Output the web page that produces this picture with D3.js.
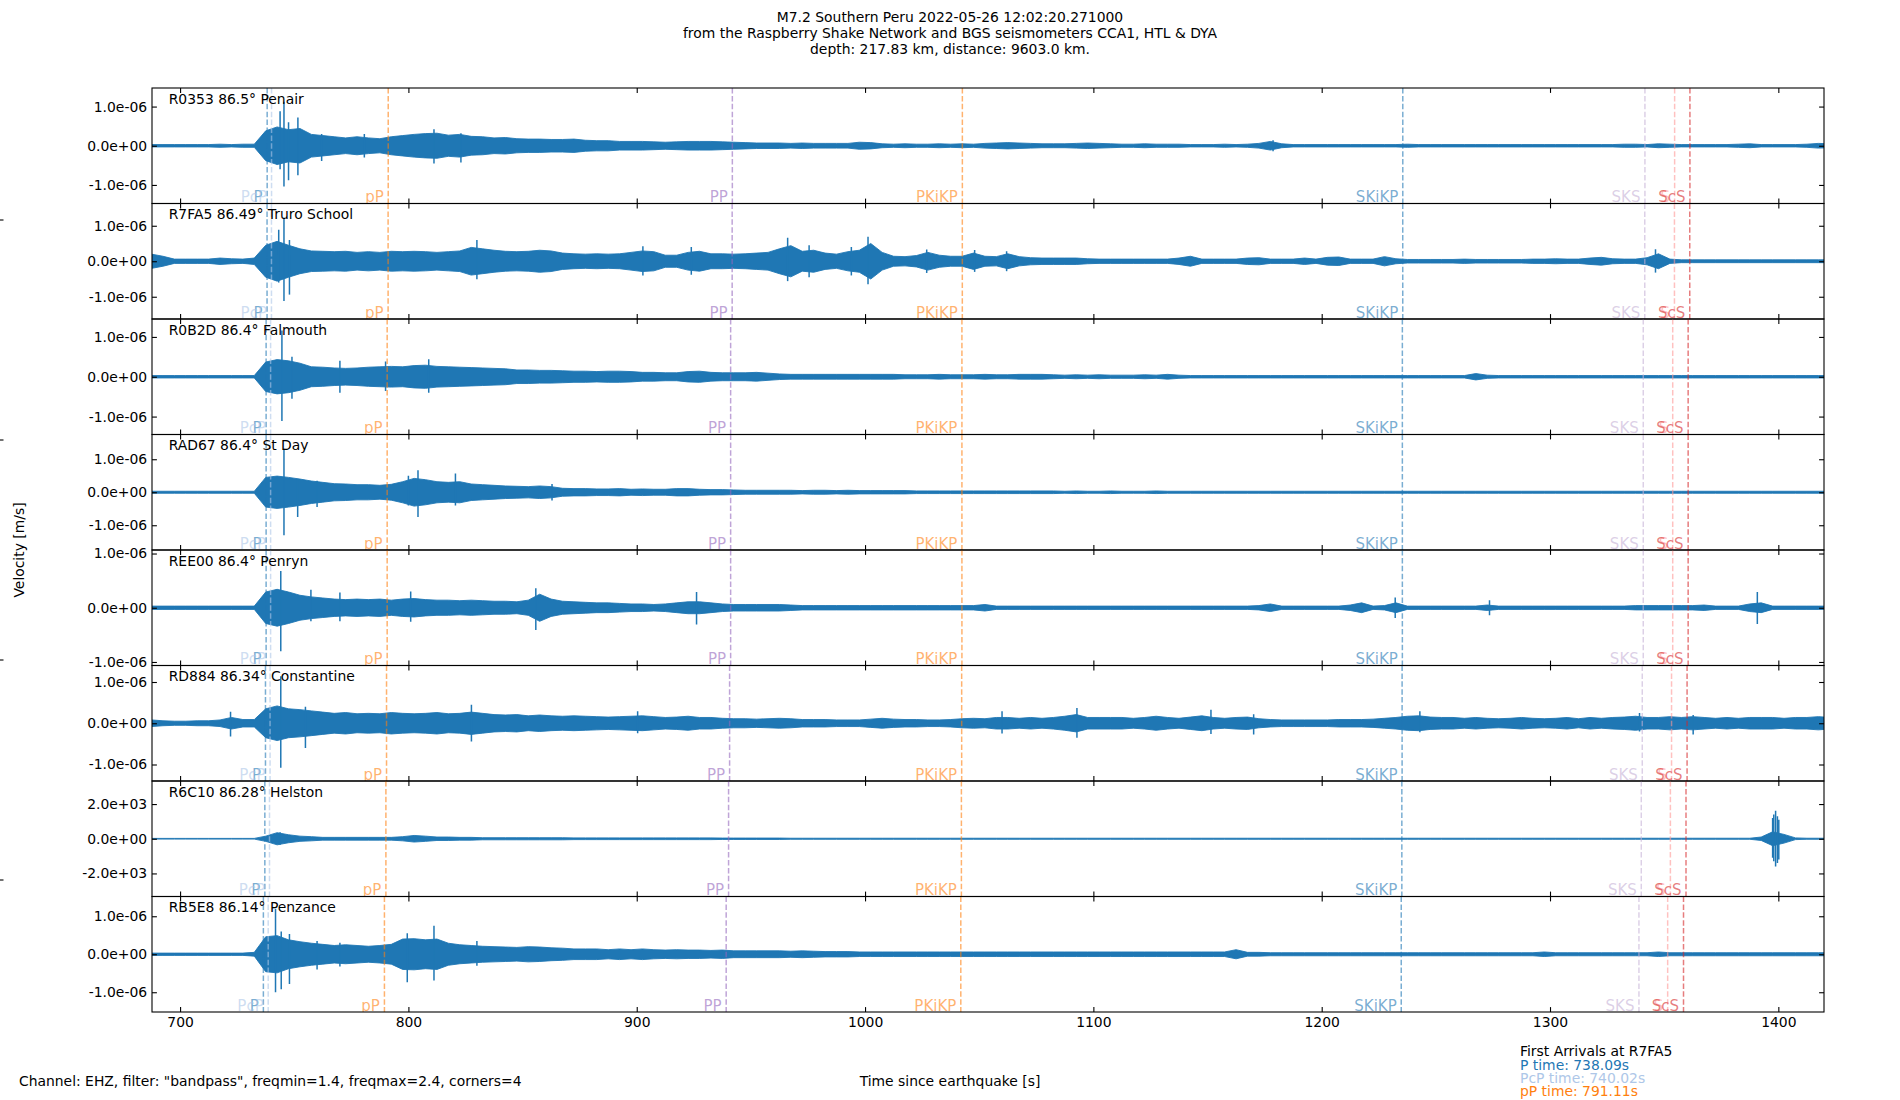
<!DOCTYPE html>
<html>
<head>
<meta charset="utf-8">
<script src="https://cdn.jsdelivr.net/npm/d3@7"></script>
<style>
  body { margin: 0; background: #fff; }
  text { font-family: "DejaVu Sans", sans-serif; }
</style>
</head>
<body>
<div id="d3-container"></div>
<script>
/**
 * CONSTANTS AND GLOBALS
 * */
const width = 1900,
  height = 1100,
  margin = { top: 88, bottom: 88, left: 152, right: 76 };

/**
 * DATA
 * */
const titleLines = [
  "M7.2 Southern Peru 2022-05-26 12:02:20.271000",
  "from the Raspberry Shake Network and BGS seismometers CCA1, HTL & DYA",
  "depth: 217.83 km, distance: 9603.0 km."
];
const stationCodes = ["R0353", "R7FA5", "R0B2D", "RAD67", "REE00", "RD884", "R6C10", "RB5E8"];
const stationDist = [86.5, 86.49, 86.4, 86.4, 86.4, 86.34, 86.28, 86.14];
const stationPlace = ["Penair", "Truro School", "Falmouth", "St Day", "Penryn", "Constantine", "Helston", "Penzance"];

const xDomain = [687.7, 1420.0];
const xTicks = [700, 800, 900, 1000, 1100, 1200, 1300, 1400];

// y limits (real units), unit of the envelope numbers, tick step
const yLimit = [1.474e-6, 1.627e-6, 1.45e-6, 1.75e-6, 1.065e-6, 1.40e-6, 3330, 1.52e-6];
const ampUnit = [1e-8, 1e-8, 1e-8, 1e-8, 1e-8, 1e-8, 10, 1e-8];
const yTickStep = [1e-6, 1e-6, 1e-6, 1e-6, 1e-6, 1e-6, 2e3, 1e-6];

// phase arrivals [s] per station (same order as stationCodes)
const phases = ["P", "PcP", "pP", "PP", "PKiKP", "SKiKP", "SKS", "S", "ScS"];
const arrP     = [738.14, 738.09, 737.68, 737.68, 737.68, 737.40, 737.12, 736.48];
const arrPcP   = [740.06, 740.02, 739.65, 739.65, 739.65, 739.41, 739.16, 738.59];
const arrpP    = [791.16, 791.11, 790.70, 790.70, 790.70, 790.42, 790.14, 789.50];
const arrPP    = [941.88, 941.80, 941.13, 941.13, 941.13, 940.68, 940.23, 939.18];
const arrPKiKP = [1042.62, 1042.60, 1042.43, 1042.43, 1042.43, 1042.32, 1042.20, 1041.94];
const arrSKiKP = [1235.52, 1235.50, 1235.33, 1235.33, 1235.33, 1235.22, 1235.10, 1234.84];
const arrSKS   = [1341.57, 1341.50, 1340.84, 1340.84, 1340.84, 1340.41, 1339.97, 1338.95];
const arrS     = [1354.58, 1354.50, 1353.74, 1353.74, 1353.74, 1353.23, 1352.72, 1351.53];
const arrScS   = [1361.28, 1361.20, 1360.50, 1360.50, 1360.50, 1360.03, 1359.56, 1358.47];

// solid core of each trace, one value every 5 s starting at 687.5 s (units: ampUnit)
const envStart = 687.5, envStep = 5;
const envR0353 = [3,3,3,3,3,3,4,3,4,4, 38,48,41,44,29,26,23,20,23,20, 18,23,26,29,31,32,27,29,24,23,
  20,21,18,17,17,16,16,17,14,13, 13,11,11,11,10,9,10,11,11,11, 10,9,8,7,7,7,6,7,6,6,
  6,6,9,8,5,4,5,4,4,5, 4,5,4,6,7,8,7,6,5,5, 5,6,7,6,5,4,4,5,4,4, 4,3,3,3,4,3,4,6,11,5,
  3,3,3,3,3,3,3,3,3,3, 4,3,3,3,3,3,3,3,3,3, 3,3,3,3,3,3,3,3,3,4, 4,3,5,4,3,3,3,3,3,4, 5,3,3,3,3,4,6,5];
const envR7FA5 = [20,14,6,6,6,6,9,7,6,9, 45,56,45,35,29,28,27,28,25,27, 25,28,27,28,27,25,27,29,39,35,
  31,28,27,28,31,29,23,21,20,21, 20,21,25,29,27,17,17,25,28,21, 21,20,21,23,25,35,44,28,31,23,
  20,27,31,50,25,14,13,16,25,17, 14,14,23,14,13,21,13,10,9,9, 9,9,7,6,6,6,6,6,6,6,
  9,14,6,6,6,6,9,10,6,6, 6,9,6,11,12,6,6,6,13,7, 5,5,5,5,5,6,5,5,5,5, 5,6,6,7,6,6,9,11,7,6,
  6,10,21,6,4,4,4,4,4,4, 4,4,4,4,4,4,4,4];
const envR0B2D = [3,3,3,3,3,3,3,3,3,3, 37,43,40,34,25,24,22,21,22,24, 25,26,25,28,29,26,25,24,23,22,
  21,20,17,17,16,16,15,14,14,13, 14,14,13,11,11,10,10,13,14,11, 10,10,10,11,9,7,6,6,6,6,
  6,6,6,6,6,6,5,5,5,6, 5,5,5,6,5,5,6,6,6,5, 4,5,4,5,4,4,4,5,4,6, 4,3,3,3,3,3,3,3,3,3,
  3,3,3,3,3,3,3,3,3,3, 3,3,3,3,3,3,8,4,3,3, 3,3,3,3,3,3,3,3,3,3, 3,3,3,3,3,3,3,3,3,3, 3,3,3,3,3,3,3,3];
const envRAD67 = [3,3,3,3,3,3,3,3,3,3, 45,49,45,40,34,30,26,25,23,23, 21,24,32,42,38,32,30,32,25,23,
  21,19,18,17,19,17,12,11,11,10, 10,11,9,10,9,9,11,11,9,8, 8,7,6,6,6,6,6,5,6,6,
  5,6,5,5,5,5,5,4,4,4, 4,4,4,4,4,4,4,4,4,4, 3,4,3,3,4,3,3,3,4,3, 3,3,3,3,3,3,3,3,3,3,
  3,3,3,3,3,3,3,3,3,3, 3,3,3,3,3,3,3,3,3,3, 3,3,3,3,3,3,3,3,3,3, 3,3,3,3,3,3,3,3,3,3, 3,3,3,3,3,3,3,3];
const envREE00 = [3,3,3,3,3,3,3,3,3,3, 29,34,29,23,20,18,16,15,16,15, 16,14,16,17,15,14,14,13,14,13,
  12,12,11,14,25,16,12,11,10,9, 9,8,7,7,6,7,9,11,11,9, 7,6,6,6,6,6,5,4,4,4,
  4,4,4,4,4,4,4,4,4,4, 4,4,4,6,3,3,3,3,3,3, 3,3,3,3,3,3,3,3,3,3, 3,3,3,3,3,3,3,4,7,3,
  3,3,3,3,3,5,9,3,4,9, 3,3,3,3,3,3,3,5,3,3, 3,3,3,3,3,3,3,3,3,3, 4,4,4,4,4,4,5,3,3,3, 7,9,3,3,3,3,3,3];
const envRD884 = [8,6,5,5,6,6,8,14,9,9, 35,42,35,33,30,27,24,26,23,24, 23,26,24,23,24,26,23,24,27,24,
  21,20,21,18,20,18,17,18,17,16, 15,16,17,18,16,14,15,17,14,14, 12,11,11,10,11,12,11,9,9,9,
  8,8,8,10,12,10,9,9,8,8, 9,11,12,11,14,14,12,14,12,14, 17,21,14,14,14,14,12,14,17,14,
  12,15,18,14,12,14,15,11,9,8, 8,8,8,8,9,9,9,10,12,14, 17,18,15,14,14,12,14,12,11,12,
  14,12,11,12,14,11,14,12,14,15, 17,14,14,16,14,16,14,12,14,12, 14,14,14,12,14,14,16,14];
const envR6C10 = [2,2,2,2,2,2,2,2,2,2, 15,35,23,15,12,8,8,8,8,8, 8,8,12,19,15,10,10,8,8,6,
  6,6,6,6,6,6,6,5,5,5, 5,5,5,5,5,5,5,5,5,5, 4,4,4,4,4,4,3,3,3,3,
  3,3,3,3,3,3,3,3,3,3, 3,3,3,3,3,3,3,3,3,3, 3,3,3,3,3,3,3,3,3,3, 3,3,3,3,3,3,3,3,3,3,
  3,3,3,3,3,3,3,3,3,3, 3,3,3,3,3,3,3,3,3,3, 3,3,3,3,3,3,3,3,3,3, 3,3,3,3,3,3,3,3,3,3, 3,10,40,25,5,3,3,3];
const envRB5E8 = [3,3,3,3,3,3,3,3,3,5, 46,49,38,33,29,26,23,25,23,21, 23,26,40,41,38,40,29,25,23,21,
  20,19,18,20,19,17,16,14,14,14, 12,14,12,14,12,11,12,11,11,10, 11,9,9,9,9,9,8,9,8,7,
  7,7,6,6,6,6,6,6,6,6, 6,6,6,6,6,6,6,6,6,6, 6,6,6,6,6,6,6,6,6,6, 6,6,6,6,6,12,5,5,4,4,
  4,4,4,4,4,4,4,4,4,4, 4,4,4,4,4,4,4,4,4,4, 4,4,6,4,4,4,4,4,4,4, 4,4,6,4,4,4,4,4,4,4, 4,4,4,4,4,4,4,4];

// single peaks sticking out of the core: [time s, top, bottom] (units: ampUnit)
const peaksR0353 = [[745.5, 112, -104], [743.8, 88, -60], [751.6, 72, -75], [747.5, 60, -88], [762.0, 30, -39],
  [780.7, 30, -30], [811.2, 42, -45], [823.0, 32, -43], [1178.7, 14, -14]];
const peaksR7FA5 = [[745.5, 123, -112], [743.2, 89, -60], [747.9, 60, -94], [966.1, 66, -56], [1001.3, 69, -65],
  [830.0, 60, -51], [1346.2, 34, -32], [902.7, 42, -40], [923.9, 40, -38], [975.5, 45, -45], [994.0, 40, -40],
  [1027.0, 33, -33], [1048.0, 32, -30], [1062.0, 28, -28]];
const peaksR0B2D = [[744.6, 116, -111], [749.0, 50, -55], [770.0, 40, -40], [790.0, 38, -36], [808.9, 44, -40]];
const peaksRAD67 = [[745.5, 132, -130], [751.5, 40, -75], [804.2, 67, -75], [800.0, 50, -40], [760.0, 35, -45],
  [820.6, 57, -40], [862.9, 25, -25]];
const peaksREE00 = [[744.1, 68, -80], [757.3, 33, -25], [855.8, 36, -41], [1232.2, 19, -19], [1273.5, 14, -14],
  [1390.8, 29, -30], [770.0, 28, -25], [801.0, 30, -26], [926.2, 29, -31]];
const peaksRD884 = [[744.1, 114, -108], [754.9, 40, -60], [827.6, 45, -44], [722.1, 28, -32], [1092.8, 37, -35],
  [900.4, 29, -24], [1060.0, 29, -25], [1151.5, 33, -26], [1170.2, 22, -27], [1243.0, 29, -22], [1339.2, 25, -20],
  [1362.7, 20, -27]];
const peaksR6C10 = [[743.8, 38, -35], [1398.8, 162, -160], [1397.5, 120, -110], [1400.2, 110, -120],
  [1398.0, 140, -130], [1399.6, 130, -140]];
const peaksRB5E8 = [[741.8, 120, -100], [744.3, 60, -92], [747.9, 53, -78], [811.2, 75, -69], [799.5, 55, -74],
  [760.0, 35, -40], [770.0, 30, -32], [830.0, 35, -30]];

const footChannel = 'Channel: EHZ, filter: "bandpass", freqmin=1.4, freqmax=2.4, corners=4';
const xLabel = "Time since earthquake [s]";
const yLabel = "Velocity [m/s]";
const refStation = 1; // R7FA5
const firstArrivalPhases = ["P", "PcP", "pP"];

/**
 * STYLE
 * */
const traceColor = "#1f77b4";
const phaseColor = {
  P: "#1f77b4", PcP: "#aec7e8", pP: "#ff7f0e", PP: "#9467bd", PKiKP: "#ff7f0e",
  SKiKP: "#1f77b4", SKS: "#c5b0d5", S: "#ff9896", ScS: "#d62728"
};
const footColor = { P: "#1f77b4", PcP: "#aec7e8", pP: "#ff7f0e" };
const fontSize = 13.9;
const phaseAlpha = 0.6;

// tables built from the arrays above
const arrivals = { P: arrP, PcP: arrPcP, pP: arrpP, PP: arrPP, PKiKP: arrPKiKP, SKiKP: arrSKiKP, SKS: arrSKS, S: arrS, ScS: arrScS };
const envelopes = [envR0353, envR7FA5, envR0B2D, envRAD67, envREE00, envRD884, envR6C10, envRB5E8];
const peaks = [peaksR0353, peaksR7FA5, peaksR0B2D, peaksRAD67, peaksREE00, peaksRD884, peaksR6C10, peaksRB5E8];

// 1.0e-06 style labels
const sci = v => {
  const [m, e] = v.toExponential(1).split("e");
  const n = +e;
  return m + "e" + (n < 0 ? "-" : "+") + String(Math.abs(n)).padStart(2, "0");
};

/**
 * DRAW
 * */
const svg = d3.select("#d3-container")
  .append("svg")
  .attr("width", width)
  .attr("height", height);

const x = d3.scaleLinear().domain(xDomain).range([margin.left, width - margin.right]);
const nPanels = stationCodes.length;
const panelH = (height - margin.top - margin.bottom) / nPanels;
const innerW = width - margin.left - margin.right;

// title
svg.append("text")
  .attr("x", width / 2)
  .attr("text-anchor", "middle")
  .attr("font-size", fontSize)
  .selectAll("tspan")
  .data(titleLines)
  .join("tspan")
  .attr("x", width / 2)
  .attr("y", (d, i) => 22 + i * 16.2)
  .text(d => d);

stationCodes.forEach((code, i) => {
  const top = margin.top + i * panelH;
  const bottom = top + panelH;
  const y = d3.scaleLinear().domain([-yLimit[i], yLimit[i]]).range([bottom, top]);
  const u = ampUnit[i];
  const g = svg.append("g");

  g.append("clipPath").attr("id", "clip" + i)
    .append("rect")
    .attr("x", margin.left).attr("y", top)
    .attr("width", innerW).attr("height", panelH);

  const plot = g.append("g").attr("clip-path", `url(#clip${i})`);

  // trace core
  const area = d3.area()
    .x((d, j) => x(envStart + j * envStep))
    .y0(d => y(-d * u))
    .y1(d => y(d * u));
  plot.append("path")
    .datum(envelopes[i])
    .attr("d", area)
    .attr("fill", traceColor)
    .attr("stroke", traceColor)
    .attr("stroke-width", 0.9)
    .attr("stroke-linejoin", "round");

  // peaks
  plot.selectAll("line.peak")
    .data(peaks[i])
    .join("line")
    .attr("class", "peak")
    .attr("x1", d => x(d[0])).attr("x2", d => x(d[0]))
    .attr("y1", d => y(d[1] * u)).attr("y2", d => y(d[2] * u))
    .attr("stroke", traceColor)
    .attr("stroke-width", 1.5);

  // phase lines + labels
  phases.forEach(p => {
    const px = x(arrivals[p][i]);
    plot.append("line")
      .attr("x1", px).attr("x2", px)
      .attr("y1", top).attr("y2", bottom)
      .attr("stroke", phaseColor[p])
      .attr("stroke-opacity", phaseAlpha)
      .attr("stroke-width", 1.5)
      .attr("stroke-dasharray", "5.5,2.4");
    plot.append("text")
      .attr("x", px - 4.5)
      .attr("y", bottom - 1.5)
      .attr("text-anchor", "end")
      .attr("font-size", 15)
      .attr("fill", phaseColor[p])
      .attr("fill-opacity", phaseAlpha)
      .text(p);
  });

  // station label
  g.append("text")
    .attr("x", margin.left + 0.01 * innerW)
    .attr("y", top + 15.5)
    .attr("font-size", fontSize)
    .text(`${code} ${stationDist[i]}° ${stationPlace[i]}`);

  // axes, ticks pointing inwards on all four sides
  const yTicks = [yTickStep[i], 0, -yTickStep[i]];
  const left = g.append("g")
    .attr("transform", `translate(${margin.left},0)`)
    .call(d3.axisLeft(y).tickValues(yTicks).tickFormat(sci).tickSize(-4.9).tickPadding(4.9));
  const right = g.append("g")
    .attr("transform", `translate(${width - margin.right},0)`)
    .call(d3.axisRight(y).tickValues(yTicks).tickFormat("").tickSize(-4.9));
  const topAx = g.append("g")
    .attr("transform", `translate(0,${top})`)
    .call(d3.axisTop(x).tickValues(xTicks).tickFormat("").tickSize(-4.9));
  const botAx = g.append("g")
    .attr("transform", `translate(0,${bottom})`)
    .call(d3.axisBottom(x).tickValues(xTicks)
      .tickFormat(i === nPanels - 1 ? d3.format("d") : "")
      .tickSize(-4.9).tickPadding(4.9));

  [left, right, topAx, botAx].forEach(a => {
    a.select(".domain").remove();
    a.selectAll(".tick line").attr("stroke", "#000").attr("stroke-width", 1.1);
    a.selectAll(".tick text")
      .attr("font-family", "DejaVu Sans, sans-serif")
      .attr("font-size", fontSize)
      .attr("fill", "#000");
  });

  g.append("rect")
    .attr("x", margin.left).attr("y", top)
    .attr("width", innerW).attr("height", panelH)
    .attr("fill", "none")
    .attr("stroke", "#000")
    .attr("stroke-width", 1.1);
});

// little marks at the left figure edge
svg.selectAll("line.edge")
  .data([0.8, 0.6, 0.4, 0.2])
  .join("line")
  .attr("class", "edge")
  .attr("x1", 0).attr("x2", 3.5)
  .attr("y1", d => d * height).attr("y2", d => d * height)
  .attr("stroke", "#000")
  .attr("stroke-width", 1.1);

// labels
svg.append("text")
  .attr("transform", `translate(24,${height / 2}) rotate(-90)`)
  .attr("text-anchor", "middle")
  .attr("font-size", fontSize)
  .text(yLabel);

svg.append("text")
  .attr("x", width / 2)
  .attr("y", 1086)
  .attr("text-anchor", "middle")
  .attr("font-size", fontSize)
  .text(xLabel);

svg.append("text")
  .attr("x", 0.01 * width)
  .attr("y", 1086)
  .attr("font-size", fontSize)
  .text(footChannel);

// first arrivals box
svg.append("text")
  .attr("x", 0.8 * width)
  .attr("y", 1056)
  .attr("font-size", fontSize)
  .text(`First Arrivals at ${stationCodes[refStation]}`);

svg.selectAll("text.arr")
  .data(firstArrivalPhases)
  .join("text")
  .attr("class", "arr")
  .attr("x", 0.8 * width)
  .attr("y", (d, k) => 1069.5 + k * 13.4)
  .attr("font-size", fontSize)
  .attr("fill", d => footColor[d])
  .text(d => `${d} time: ${arrivals[d][refStation].toFixed(2)}s`);
</script>
</body>
</html>
